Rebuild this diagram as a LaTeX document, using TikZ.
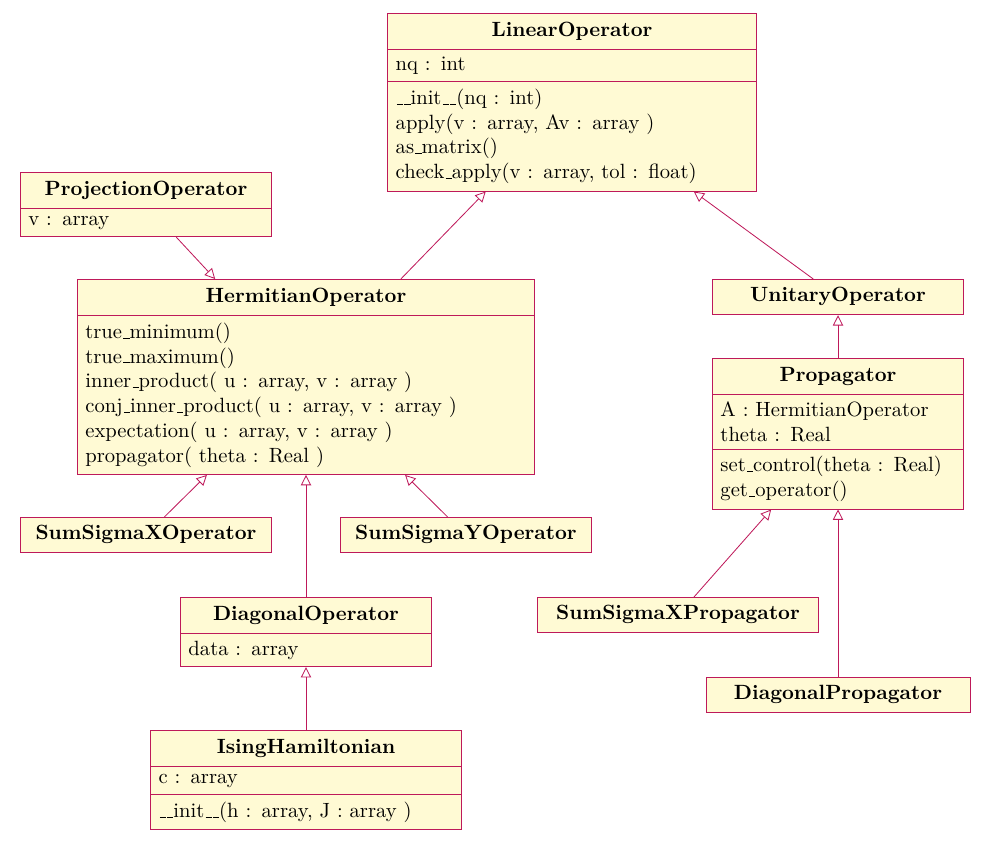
\documentclass[tikz,border=0pt]{standalone}
\usetikzlibrary{shapes.multipart,arrows.meta}
\definecolor{umlline}{RGB}{190,25,90}
\definecolor{umlfill}{RGB}{255,250,212}
\newcommand{\umltitle}[1]{\hbox to\hsize{\hss\rule[-3pt]{0pt}{10.5pt}\textbf{#1}\hss}}
\newcommand{\us}{\leavevmode\kern.06em\vbox{\hrule width.3em}}
\begin{document}
\begin{tikzpicture}[x=0.485pt,y=-0.485pt,
    box/.style={draw=umlline,fill=umlfill,anchor=north,align=left,inner xsep=4pt,text width=114pt},
    class/.style={box,rectangle split,rectangle split parts=3},
    attrclass/.style={box,rectangle split,rectangle split parts=2},
    inherit/.style={draw=umlline,-{Triangle[open,length=5pt,width=5pt]}}]
    \useasboundingbox (0,0) rectangle (989,856);

    \node[class,text width=171pt] at (572,13) (lin) {\umltitle{LinearOperator}
        \nodepart{two} nq : int
        \nodepart{three} \us\us init\us\us(nq : int)\\ apply(v : array, Av : array )\\ as\us matrix()\\ check\us apply(v : array, tol : float)};
    \node[attrclass] at (146,172) (proj) {\umltitle{ProjectionOperator}
        \nodepart{two} v : array};
    \node[attrclass,text width=214pt] at (306,279) (herm) {\umltitle{HermitianOperator}
        \nodepart{two} true\us minimum()\\ true\us maximum()\\ inner\us product( u : array, v : array )\\ conj\us inner\us product( u : array, v : array )\\ expectation( u : array, v : array )\\ propagator( theta : Real )};
    \node[box] at (838,279) (unit) {\umltitle{UnitaryOperator}};
    \node[class] at (838,358) (prop) {\umltitle{Propagator}
        \nodepart{two} A : HermitianOperator\\ theta : Real
        \nodepart{three} set\us control(theta : Real)\\ get\us operator()};
    \node[box] at (146,517) (sumx) {\umltitle{SumSigmaXOperator}};
    \node[box] at (466,517) (sumy) {\umltitle{SumSigmaYOperator}};
    \node[attrclass] at (306,597) (diag) {\umltitle{DiagonalOperator}
        \nodepart{two} data : array};
    \node[class,text width=143pt] at (306,730) (ising) {\umltitle{IsingHamiltonian}
        \nodepart{two} c : array
        \nodepart{three} \us\us init\us\us(h : array, J : array )};
    \node[box,text width=128pt] at (678,597) (sumxp) {\umltitle{SumSigmaXPropagator}};
    \node[box,text width=120pt] at (838,677) (diagp) {\umltitle{DiagonalPropagator}};

    \path[inherit]
        (herm) edge (lin)
        (unit) edge (lin)
        (proj) edge (herm)
        (prop) edge (unit)
        (sumx) edge (herm)
        (sumy) edge (herm)
        (diag) edge (herm)
        (ising) edge (diag)
        (sumxp) edge (prop)
        (diagp) edge (prop)
        ;
\end{tikzpicture}
\end{document}
